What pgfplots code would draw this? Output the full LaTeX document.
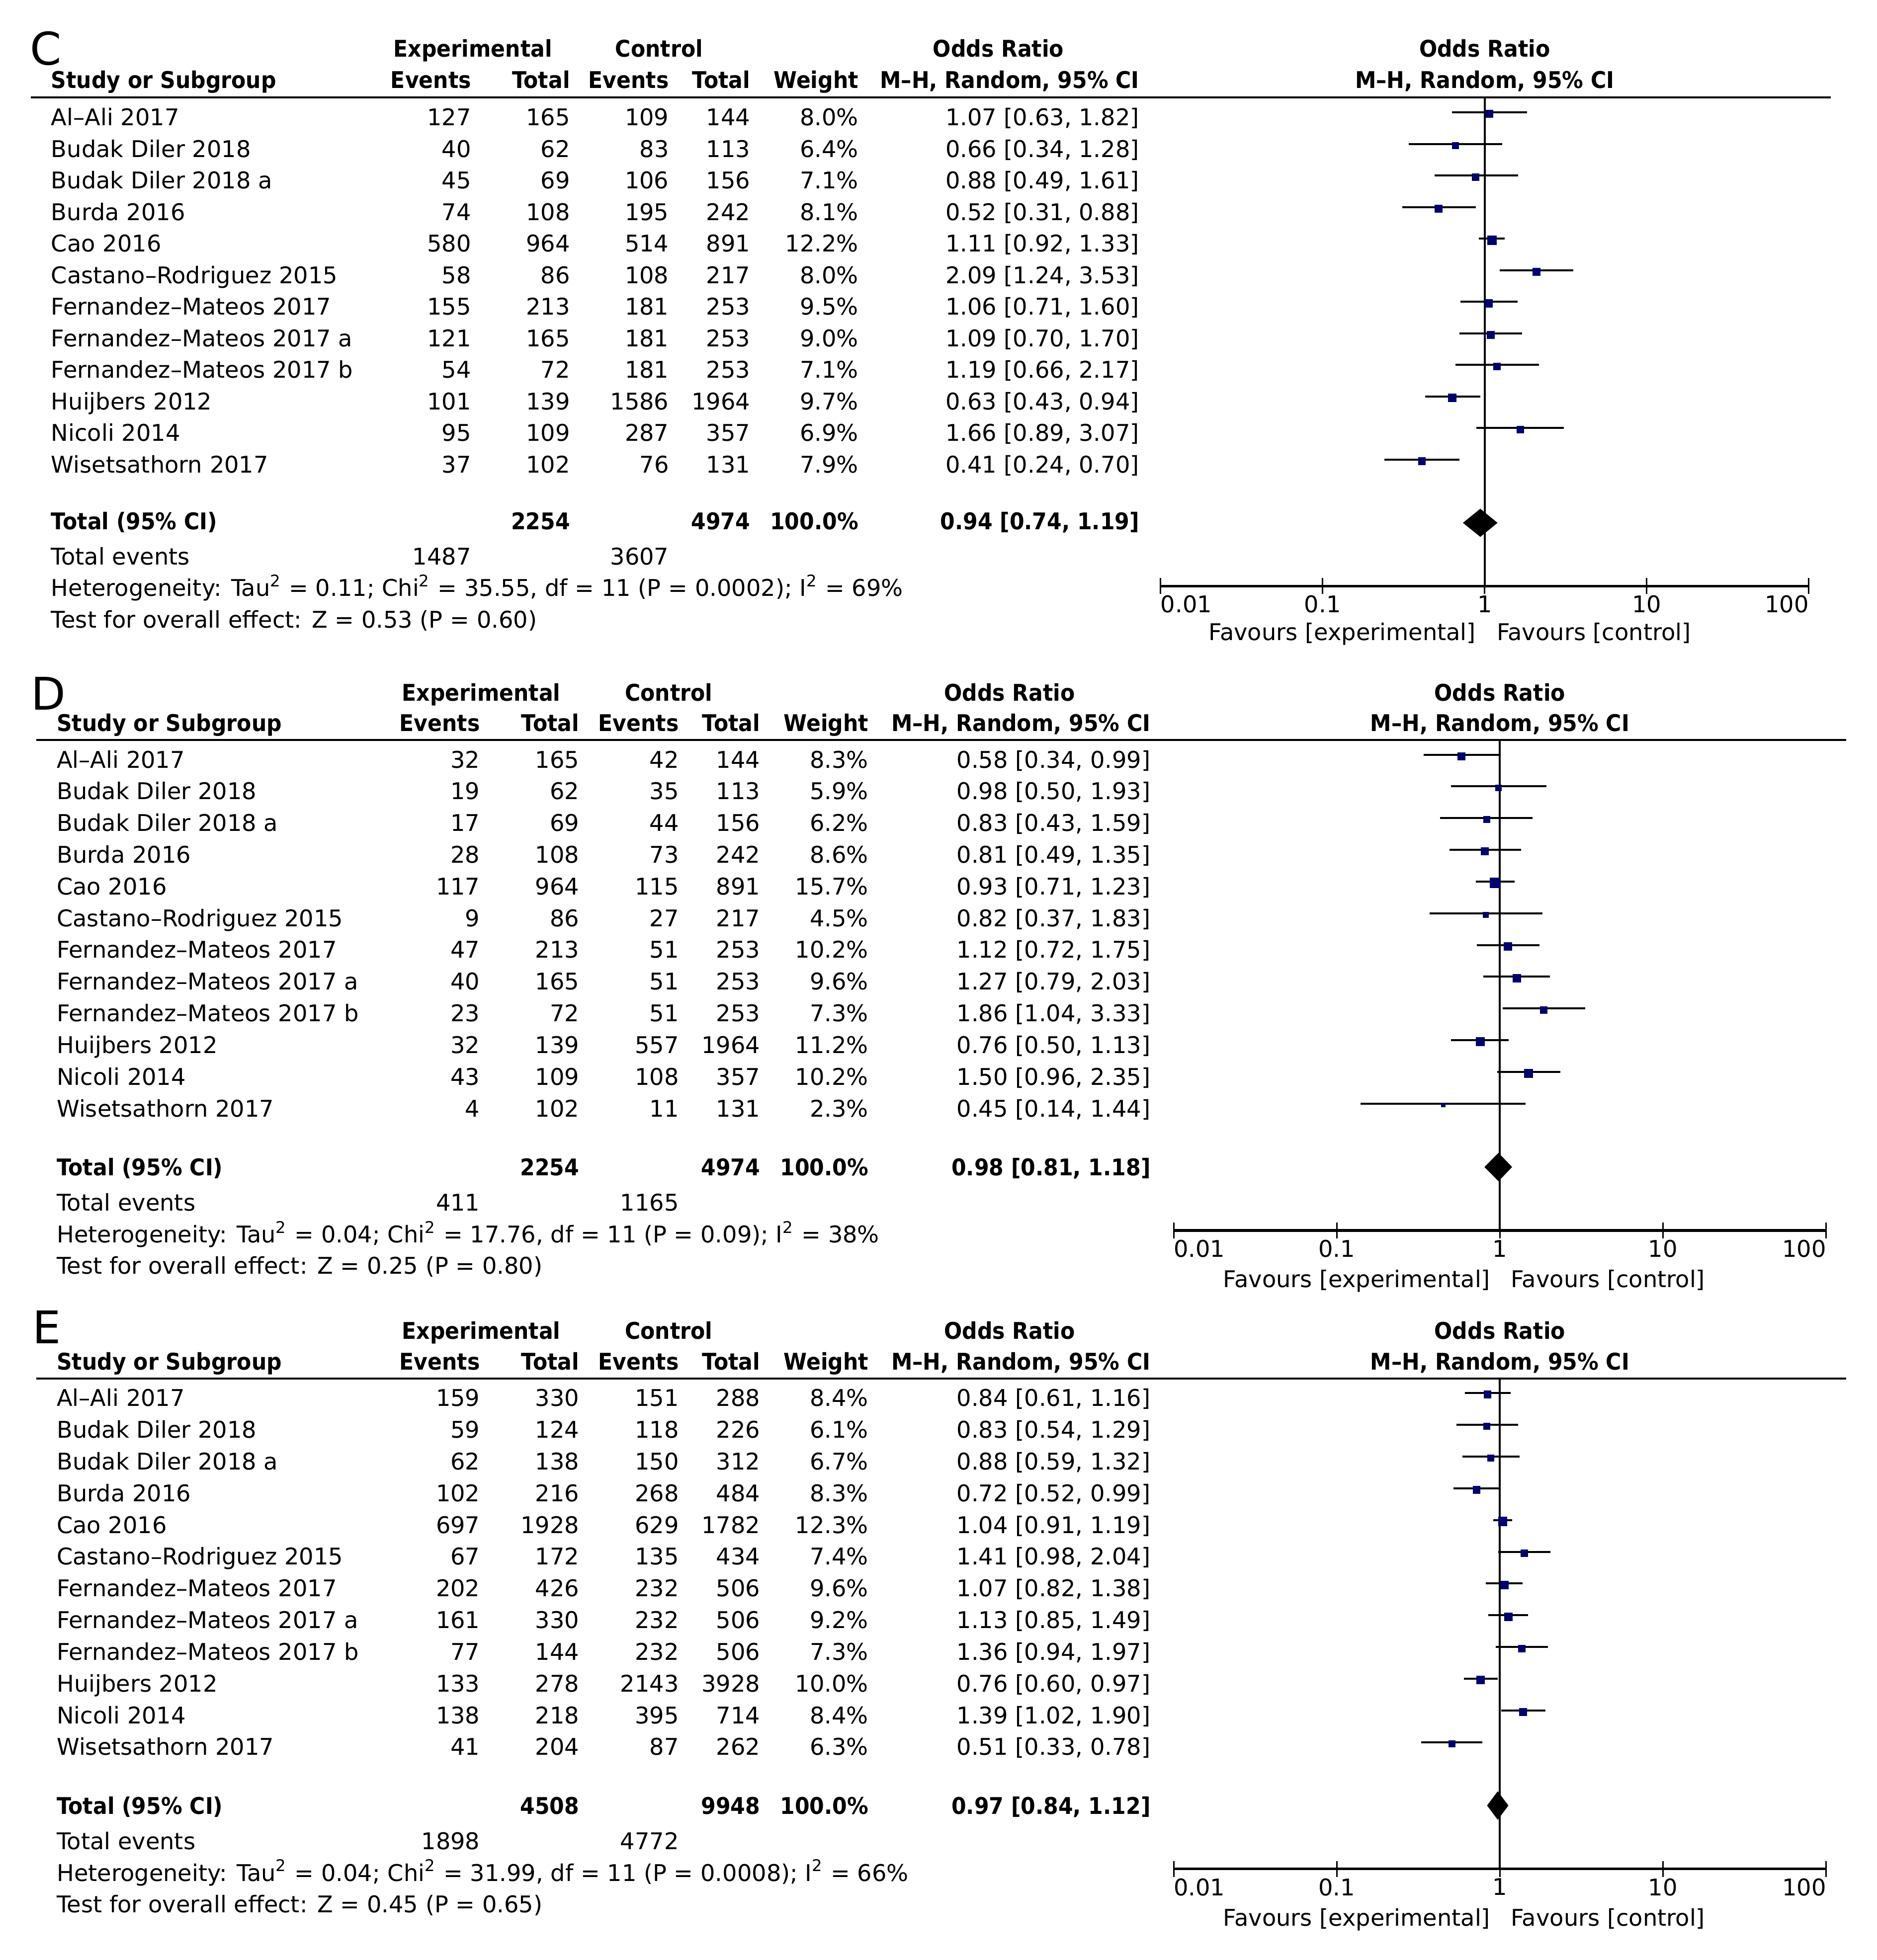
\documentclass[border=0pt]{standalone}
\usepackage{fontspec}
\setmainfont{DejaVu Sans}[BoldFeatures={FakeStretch=0.92}]
\usepackage{pgfplots}
\usepackage{pgfplotstable}
\pgfplotsset{compat=1.18}
\definecolor{markblue}{RGB}{0,0,112}
\newcommand\normalfnt{\fontsize{9.2}{11}\selectfont}

% row, odds ratio, 95% CI, weight (%)
\pgfplotstableread{
row or   lo   hi   w
1   1.07 0.63 1.82 8.0
2   0.66 0.34 1.28 6.4
3   0.88 0.49 1.61 7.1
4   0.52 0.31 0.88 8.1
5   1.11 0.92 1.33 12.2
6   2.09 1.24 3.53 8.0
7   1.06 0.71 1.60 9.5
8   1.09 0.70 1.70 9.0
9   1.19 0.66 2.17 7.1
10  0.63 0.43 0.94 9.7
11  1.66 0.89 3.07 6.9
12  0.41 0.24 0.70 7.9
}\studiesC
\pgfplotstableread{
row or   lo   hi   w
1   0.58 0.34 0.99 8.3
2   0.98 0.50 1.93 5.9
3   0.83 0.43 1.59 6.2
4   0.81 0.49 1.35 8.6
5   0.93 0.71 1.23 15.7
6   0.82 0.37 1.83 4.5
7   1.12 0.72 1.75 10.2
8   1.27 0.79 2.03 9.6
9   1.86 1.04 3.33 7.3
10  0.76 0.50 1.13 11.2
11  1.50 0.96 2.35 10.2
12  0.45 0.14 1.44 2.3
}\studiesD
\pgfplotstableread{
row or   lo   hi   w
1   0.84 0.61 1.16 8.4
2   0.83 0.54 1.29 6.1
3   0.88 0.59 1.32 6.7
4   0.72 0.52 0.99 8.3
5   1.04 0.91 1.19 12.3
6   1.41 0.98 2.04 7.4
7   1.07 0.82 1.38 9.6
8   1.13 0.85 1.49 9.2
9   1.36 0.94 1.97 7.3
10  0.76 0.60 0.97 10.0
11  1.39 1.02 1.90 8.4
12  0.51 0.33 0.78 6.3
}\studiesE
% pooled estimate: diamond outline (odds ratio, row)
\pgfplotstableread{
x y
0.74 -14
0.94 -13.57
1.19 -14
0.94 -14.43
}\totC
\pgfplotstableread{
x y
0.81 -14
0.98 -13.57
1.18 -14
0.98 -14.43
}\totD
\pgfplotstableread{
x y
0.84 -14
0.97 -13.57
1.12 -14
0.97 -14.43
}\totE

\newcommand\setcols[7]{\def\xS{#1}\def\xEE{#2}\def\xET{#3}\def\xCE{#4}\def\xCT{#5}\def\xW{#6}\def\xOR{#7}}
\newcommand\datarow[8]{%
  \path ({\xS},{\rowA+\rowS*(#1-1)}) node[t,anchor=base west]{#2}
        ({\xEE},{\rowA+\rowS*(#1-1)}) node[t,anchor=base east]{#3}
        ({\xET},{\rowA+\rowS*(#1-1)}) node[t,anchor=base east]{#4}
        ({\xCE},{\rowA+\rowS*(#1-1)}) node[t,anchor=base east]{#5}
        ({\xCT},{\rowA+\rowS*(#1-1)}) node[t,anchor=base east]{#6}
        ({\xW},{\rowA+\rowS*(#1-1)}) node[t,anchor=base east]{#7}
        ({\xOR},{\rowA+\rowS*(#1-1)}) node[t,anchor=base east]{#8};}
% header: y1, y2, exp centre, control centre, OR centre, forest centre
\newcommand\header[6]{%
  \path[font=\normalfnt\bfseries]
    (#3,#1) node[t,anchor=base]{Experimental}
    (#4,#1) node[t,anchor=base]{Control}
    (#5,#1) node[t,anchor=base]{Odds Ratio}
    (#6,#1) node[t,anchor=base]{Odds Ratio}
    (\xS,#2) node[t,anchor=base west]{Study or Subgroup}
    (\xEE,#2) node[t,anchor=base east]{Events}
    (\xET,#2) node[t,anchor=base east]{Total}
    (\xCE,#2) node[t,anchor=base east]{Events}
    (\xCT,#2) node[t,anchor=base east]{Total}
    (\xW,#2) node[t,anchor=base east]{Weight}
    (\xOR,#2) node[t,anchor=base east]{M–H, Random, 95\% CI}
    (#6,#2) node[t,anchor=base]{M–H, Random, 95\% CI};}
% totals: y, tot exp, tot ctl, OR text, y events, ev exp, ev ctl, y het, het
\newcommand\totals[9]{%
  \path[font=\normalfnt\bfseries]
    (\xS,#1) node[t,anchor=base west]{Total (95\% CI)}
    (\xET,#1) node[t,anchor=base east]{#2}
    (\xCT,#1) node[t,anchor=base east]{#3}
    (\xW,#1) node[t,anchor=base east]{100.0\%}
    (\xOR,#1) node[t,anchor=base east]{#4};
  \path (\xS,#5) node[t,anchor=base west]{Total events}
    (\xEE,#5) node[t,anchor=base east]{#6}
    (\xCE,#5) node[t,anchor=base east]{#7}
    (\xS,#8) node[t,anchor=base west]{#9};}
% one forest plot: table, pooled table, ymax
\newcommand\forest[3]{%
  \addplot[line width=0.75pt, forget plot] coordinates {(0,-16) (0,#3)};
  \addplot[draw=none, mark=none, forget plot,
      error bars/.cd, x dir=both, x explicit, error mark=none,
      error bar style={draw=black, line width=0.8pt}]
    table[x expr=log10(\thisrow{or}), y expr=-\thisrow{row},
      x error plus expr=log10(\thisrow{hi})-log10(\thisrow{or}),
      x error minus expr=log10(\thisrow{or})-log10(\thisrow{lo})] {#1};
  \addplot[scatter, only marks, mark=square*, forget plot,
      scatter/use mapped color={draw=markblue, fill=markblue},
      visualization depends on={1.35*sqrt(\thisrow{w}/8) \as \msz},
      scatter/@pre marker code/.append style={/tikz/mark size=\msz, /tikz/yshift=-0.6pt}]
    table[x expr=log10(\thisrow{or}), y expr=-\thisrow{row}, meta=w] {#1};
  \addplot[fill=black, draw=black, line width=0.3pt, forget plot]
    table[x expr=log10(\thisrow{x}), y=y] {#2} -- cycle;}

\begin{document}
\begin{tikzpicture}[x=0.5pt, y=-0.5pt, font=\normalfnt, t/.style={inner sep=0pt}]
\useasboundingbox (0,0) rectangle (1500,1567.1);
\coordinate (axC) at (927.7,468.5);
\coordinate (axD) at (938.2,983.8);
\coordinate (axE) at (938.2,1494.3);

%%%%%%%%%%%%%%%% Panel C
\node[t,anchor=base west,font=\fontsize{18}{20}\selectfont] at (23.5,51.7) {C};
\setcols{40.5}{377}{456}{535}{600}{686.5}{911}
\header{45.6}{70.7}{378}{526.8}{798}{1186.75}
\draw[line width=0.8pt] (24.7,77.8) -- (1463.5,77.8);
\def\rowA{100.4}\def\rowS{25.24}
\datarow{1}{Al–Ali 2017}{127}{165}{109}{144}{8.0\%}{1.07 [0.63, 1.82]}
\datarow{2}{Budak Diler 2018}{40}{62}{83}{113}{6.4\%}{0.66 [0.34, 1.28]}
\datarow{3}{Budak Diler 2018 a}{45}{69}{106}{156}{7.1\%}{0.88 [0.49, 1.61]}
\datarow{4}{Burda 2016}{74}{108}{195}{242}{8.1\%}{0.52 [0.31, 0.88]}
\datarow{5}{Cao 2016}{580}{964}{514}{891}{12.2\%}{1.11 [0.92, 1.33]}
\datarow{6}{Castano–Rodriguez 2015}{58}{86}{108}{217}{8.0\%}{2.09 [1.24, 3.53]}
\datarow{7}{Fernandez–Mateos 2017}{155}{213}{181}{253}{9.5\%}{1.06 [0.71, 1.60]}
\datarow{8}{Fernandez–Mateos 2017 a}{121}{165}{181}{253}{9.0\%}{1.09 [0.70, 1.70]}
\datarow{9}{Fernandez–Mateos 2017 b}{54}{72}{181}{253}{7.1\%}{1.19 [0.66, 2.17]}
\datarow{10}{Huijbers 2012}{101}{139}{1586}{1964}{9.7\%}{0.63 [0.43, 0.94]}
\datarow{11}{Nicoli 2014}{95}{109}{287}{357}{6.9\%}{1.66 [0.89, 3.07]}
\datarow{12}{Wisetsathorn 2017}{37}{102}{76}{131}{7.9\%}{0.41 [0.24, 0.70]}
\totals{423.5}{2254}{4974}{0.94 [0.74, 1.19]}{451.7}{1487}{3607}{476.8}{Heterogeneity: Tau\textsuperscript{2} = 0.11; Chi\textsuperscript{2} = 35.55, df = 11 (P = 0.0002); I\textsuperscript{2} = 69\%}
\node[t,anchor=base west] at (\xS,502) {Test for overall effect: Z = 0.53 (P = 0.60)};
\begin{axis}[at={(axC)}, anchor=south west, width=259.05pt, height=195.35pt,
    scale only axis, clip=false, xmin=-2, xmax=2, ymin=-16, ymax=-0.5206,
    axis x line*=bottom, axis y line=none,
    xtick={-2,-1,0,1,2},
    xticklabels={\makebox[0pt][l]{0.01},0.1,1,10,\makebox[0pt][r]{100}},
    tick align=center, major tick length=6.3pt,
    tick style={black, line width=0.65pt}, axis line style={black, line width=1pt},
    xticklabel style={font=\normalfnt, inner sep=0pt, anchor=north, yshift=-0.5pt}]
\forest{\studiesC}{\totC}{-0.5206}
\end{axis}
\node[t,anchor=base east] at (1180,511.9) {Favours [experimental]};
\node[t,anchor=base west] at (1196,511.9) {Favours [control]};

%%%%%%%%%%%%%%%% Panel D
\node[t,anchor=base west,font=\fontsize{18}{20}\selectfont] at (24.5,567.4) {D};
\setcols{45}{384}{463.3}{543}{608}{694.5}{920}
\header{560.3}{584.8}{384.6}{534.6}{807}{1198.9}
\draw[line width=0.8pt] (29,591.7) -- (1475.8,591.7);
\def\rowA{613.9}\def\rowS{25.36}
\datarow{1}{Al–Ali 2017}{32}{165}{42}{144}{8.3\%}{0.58 [0.34, 0.99]}
\datarow{2}{Budak Diler 2018}{19}{62}{35}{113}{5.9\%}{0.98 [0.50, 1.93]}
\datarow{3}{Budak Diler 2018 a}{17}{69}{44}{156}{6.2\%}{0.83 [0.43, 1.59]}
\datarow{4}{Burda 2016}{28}{108}{73}{242}{8.6\%}{0.81 [0.49, 1.35]}
\datarow{5}{Cao 2016}{117}{964}{115}{891}{15.7\%}{0.93 [0.71, 1.23]}
\datarow{6}{Castano–Rodriguez 2015}{9}{86}{27}{217}{4.5\%}{0.82 [0.37, 1.83]}
\datarow{7}{Fernandez–Mateos 2017}{47}{213}{51}{253}{10.2\%}{1.12 [0.72, 1.75]}
\datarow{8}{Fernandez–Mateos 2017 a}{40}{165}{51}{253}{9.6\%}{1.27 [0.79, 2.03]}
\datarow{9}{Fernandez–Mateos 2017 b}{23}{72}{51}{253}{7.3\%}{1.86 [1.04, 3.33]}
\datarow{10}{Huijbers 2012}{32}{139}{557}{1964}{11.2\%}{0.76 [0.50, 1.13]}
\datarow{11}{Nicoli 2014}{43}{109}{108}{357}{10.2\%}{1.50 [0.96, 2.35]}
\datarow{12}{Wisetsathorn 2017}{4}{102}{11}{131}{2.3\%}{0.45 [0.14, 1.44]}
\totals{939.8}{2254}{4974}{0.98 [0.81, 1.18]}{968.3}{411}{1165}{993.5}{Heterogeneity: Tau\textsuperscript{2} = 0.04; Chi\textsuperscript{2} = 17.76, df = 11 (P = 0.09); I\textsuperscript{2} = 38\%}
\node[t,anchor=base west] at (\xS,1018.6) {Test for overall effect: Z = 0.25 (P = 0.80)};
\begin{axis}[at={(axD)}, anchor=south west, width=260.7pt, height=196.05pt,
    scale only axis, clip=false, xmin=-2, xmax=2, ymin=-16, ymax=-0.5386,
    axis x line*=bottom, axis y line=none,
    xtick={-2,-1,0,1,2},
    xticklabels={\makebox[0pt][l]{0.01},0.1,1,10,\makebox[0pt][r]{100}},
    tick align=center, major tick length=6.3pt,
    tick style={black, line width=0.65pt}, axis line style={black, line width=1pt},
    xticklabel style={font=\normalfnt, inner sep=0pt, anchor=north, yshift=-0.5pt}]
\forest{\studiesD}{\totD}{-0.5386}
\end{axis}
\node[t,anchor=base east] at (1191.6,1029.2) {Favours [experimental]};
\node[t,anchor=base west] at (1207.3,1029.2) {Favours [control]};

%%%%%%%%%%%%%%%% Panel E
\node[t,anchor=base west,font=\fontsize{18}{20}\selectfont] at (25.5,1074) {E};
\header{1070.8}{1095.3}{384.6}{534.6}{807}{1198.9}
\draw[line width=0.8pt] (29,1102.2) -- (1475.8,1102.2);
\def\rowA{1124.4}\def\rowS{25.36}
\datarow{1}{Al–Ali 2017}{159}{330}{151}{288}{8.4\%}{0.84 [0.61, 1.16]}
\datarow{2}{Budak Diler 2018}{59}{124}{118}{226}{6.1\%}{0.83 [0.54, 1.29]}
\datarow{3}{Budak Diler 2018 a}{62}{138}{150}{312}{6.7\%}{0.88 [0.59, 1.32]}
\datarow{4}{Burda 2016}{102}{216}{268}{484}{8.3\%}{0.72 [0.52, 0.99]}
\datarow{5}{Cao 2016}{697}{1928}{629}{1782}{12.3\%}{1.04 [0.91, 1.19]}
\datarow{6}{Castano–Rodriguez 2015}{67}{172}{135}{434}{7.4\%}{1.41 [0.98, 2.04]}
\datarow{7}{Fernandez–Mateos 2017}{202}{426}{232}{506}{9.6\%}{1.07 [0.82, 1.38]}
\datarow{8}{Fernandez–Mateos 2017 a}{161}{330}{232}{506}{9.2\%}{1.13 [0.85, 1.49]}
\datarow{9}{Fernandez–Mateos 2017 b}{77}{144}{232}{506}{7.3\%}{1.36 [0.94, 1.97]}
\datarow{10}{Huijbers 2012}{133}{278}{2143}{3928}{10.0\%}{0.76 [0.60, 0.97]}
\datarow{11}{Nicoli 2014}{138}{218}{395}{714}{8.4\%}{1.39 [1.02, 1.90]}
\datarow{12}{Wisetsathorn 2017}{41}{204}{87}{262}{6.3\%}{0.51 [0.33, 0.78]}
\totals{1450.3}{4508}{9948}{0.97 [0.84, 1.12]}{1478.8}{1898}{4772}{1504}{Heterogeneity: Tau\textsuperscript{2} = 0.04; Chi\textsuperscript{2} = 31.99, df = 11 (P = 0.0008); I\textsuperscript{2} = 66\%}
\node[t,anchor=base west] at (\xS,1529.1) {Test for overall effect: Z = 0.45 (P = 0.65)};
\begin{axis}[at={(axE)}, anchor=south west, width=260.7pt, height=196.05pt,
    scale only axis, clip=false, xmin=-2, xmax=2, ymin=-16, ymax=-0.5386,
    axis x line*=bottom, axis y line=none,
    xtick={-2,-1,0,1,2},
    xticklabels={\makebox[0pt][l]{0.01},0.1,1,10,\makebox[0pt][r]{100}},
    tick align=center, major tick length=6.3pt,
    tick style={black, line width=0.65pt}, axis line style={black, line width=1pt},
    xticklabel style={font=\normalfnt, inner sep=0pt, anchor=north, yshift=-0.5pt}]
\forest{\studiesE}{\totE}{-0.5386}
\end{axis}
\node[t,anchor=base east] at (1191.6,1539.7) {Favours [experimental]};
\node[t,anchor=base west] at (1207.3,1539.7) {Favours [control]};
\end{tikzpicture}
\end{document}
